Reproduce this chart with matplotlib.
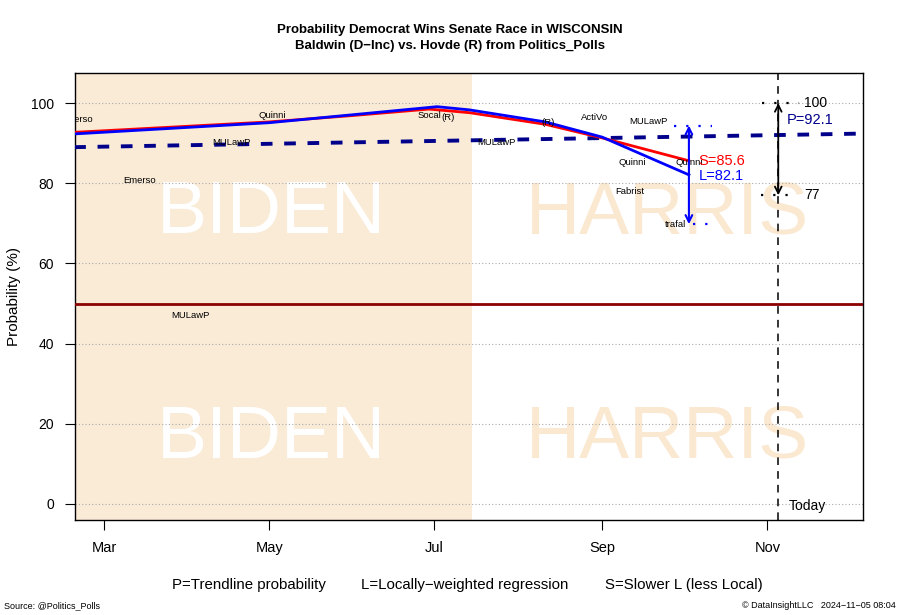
import matplotlib
matplotlib.use("Agg")
import matplotlib.pyplot as plt
import matplotlib.dates as mdates
import numpy as np
from datetime import datetime, timedelta

plt.rcParams['font.family'] = ['Liberation Sans', 'DejaVu Sans']

# ---------------- data ----------------
loess_dates = ['2024-02-19', '2024-05-01', '2024-06-01', '2024-07-02', '2024-07-14',
               '2024-08-11', '2024-09-01', '2024-10-03']
loess_vals = [92.3, 95.1, 97.1, 99.1, 98.3, 95.3, 91.5, 82.1]

slow_dates = ['2024-02-19', '2024-05-01', '2024-06-01', '2024-06-29', '2024-07-14',
              '2024-08-11', '2024-09-01', '2024-10-03']
slow_vals = [92.7, 95.3, 96.9, 98.5, 97.6, 94.7, 91.3, 85.6]

trend_dates = ['2024-02-19', '2024-12-07']
trend_vals = [89.0, 92.4]

poll_names = ['Emerso', 'Emerso', 'MULawP', 'MULawP', 'Quinni', 'Socal', '(R)', 'MULawP',
              '(R)', 'ActiVo', 'Fabrist', 'Quinni', 'MULawP', 'trafal', 'Quinni']
poll_dates = ['2024-02-20', '2024-03-14', '2024-04-02', '2024-04-17', '2024-05-02',
              '2024-06-29', '2024-07-06', '2024-07-24', '2024-08-12', '2024-08-29',
              '2024-09-11', '2024-09-12', '2024-09-18', '2024-09-28', '2024-10-03']
poll_vals = [96.0, 80.8, 47.1, 90.1, 97.0, 97.0, 96.4, 90.2, 95.2, 96.3,
             77.9, 85.2, 95.5, 69.6, 85.2]

last_poll_date = '2024-10-03'
range_top, range_bottom = 94.4, 69.8
today = '2024-11-05'
p_today, l_today, s_today = 92.1, 82.1, 85.6
p_hi, p_lo = 100, 77
biden_end = '2024-07-15'
xlim_dates = ['2024-02-19 07:00', '2024-12-06 07:00']
yticks = [0, 20, 40, 60, 80, 100]
xtick_dates = ['2024-03-01', '2024-05-01', '2024-07-01', '2024-09-01', '2024-11-01']
xtick_labels = ['Mar', 'May', 'Jul', 'Sep', 'Nov']


def d(s):
    return mdates.date2num(datetime.fromisoformat(s))


# ---------------- figure ----------------
fig = plt.figure(figsize=(9, 6.15), dpi=100)
ax = fig.add_axes([75/900, 1-520/615, (863-75)/900, (520-73)/615])
ax.set_xlim(d(xlim_dates[0]), d(xlim_dates[1]))
ax.set_ylim(-4.0, 107.5)

shade = '#FAEBD7'
ax.axvspan(d(xlim_dates[0]), d(biden_end), color=shade, zorder=0, lw=0)

# big background words
for yb in (67.5, 11.5):
    ax.text(d('2024-05-02'), yb, 'BIDEN', color='white', fontsize=54,
            ha='center', va='baseline', zorder=1)
    ax.text(d('2024-09-25'), yb, 'HARRIS', color='#FBE8D0', fontsize=54,
            ha='center', va='baseline', zorder=1)

# grid
for yv in yticks:
    ax.axhline(yv, color='#AAAAAA', lw=0.8, ls=(0, (1, 2)), zorder=1.5)

# 50% line
ax.axhline(50, color='#8B0000', lw=2, zorder=3)

# today line
ax.axvline(d(today), color='black', lw=1.1, ls=(0, (5, 4)), zorder=4)
ax.text(d(today) + 4, -0.5, 'Today', fontsize=10, ha='left', va='center', zorder=5)

# trendline P
ax.plot([d(s) for s in trend_dates], trend_vals, color='#00008B', lw=2.8,
        ls=(0, (3, 3)), zorder=4)

# loess curves
ax.plot([d(s) for s in slow_dates], slow_vals, color='#FF0000', lw=2, zorder=5)
ax.plot([d(s) for s in loess_dates], loess_vals, color='#0000FF', lw=2, zorder=6)

# poll labels
for n, ds, v in zip(poll_names, poll_dates, poll_vals):
    ax.text(d(ds), v, n, fontsize=6.8, ha='center', va='center', zorder=7, clip_on=True)

# range arrow at last poll
xl = d(last_poll_date)
ax.annotate('', xy=(xl, range_top), xytext=(xl, range_bottom),
            arrowprops=dict(arrowstyle='<->', color='#0000FF', lw=1.5,
                            shrinkA=0, shrinkB=0, mutation_scale=12), zorder=8)
ax.plot([xl - 5.5, xl + 8.5], [range_top, range_top], color='#0000FF', lw=1.6,
        ls=(0, (1, 4.5)), zorder=8)
ax.plot([xl + 1.5, xl + 7.0], [range_bottom, range_bottom], color='#0000FF', lw=1.6,
        ls=(0, (1, 4.5)), zorder=8)
ax.text(xl + 3.5, s_today, 'S=%.1f' % s_today, color='#FF0000', fontsize=10.5,
        ha='left', va='center', zorder=9)
ax.text(xl + 3.5, l_today - 0.2, 'L=%.1f' % l_today, color='#0000FF', fontsize=10.5,
        ha='left', va='center', zorder=9)

# range arrow at today
xt = d(today)
ax.annotate('', xy=(xt, p_hi), xytext=(xt, p_lo),
            arrowprops=dict(arrowstyle='<->', color='black', lw=1.3,
                            shrinkA=0, shrinkB=0, mutation_scale=12), zorder=8)
ax.plot([xt - 6, xt + 7.5], [p_hi, p_hi], color='black', lw=1.6,
        ls=(0, (1, 4.5)), zorder=8)
ax.plot([xt - 6.5, xt + 6.5], [p_lo, p_lo], color='black', lw=1.6,
        ls=(0, (1, 4.5)), zorder=8)
ax.text(xt + 9.5, p_hi, '%d' % p_hi, fontsize=10, ha='left', va='center', zorder=9)
ax.text(xt + 9.5, p_lo, '%d' % p_lo, fontsize=10, ha='left', va='center', zorder=9)
ax.text(xt + 3.3, p_today + 3.7, 'P=%.1f' % p_today, color='#00008B', fontsize=10.5,
        ha='left', va='center', zorder=9)

# axes styling
ax.set_yticks(yticks)
ax.set_yticklabels([str(v) for v in yticks], fontsize=10)
ax.set_xticks([d(s) for s in xtick_dates])
ax.set_xticklabels(xtick_labels, fontsize=10.5)
ax.tick_params(axis='x', length=7, pad=8, width=0.8)
ax.tick_params(axis='y', length=7, pad=8, width=0.8)
for sp in ax.spines.values():
    sp.set_linewidth(1.0)
ax.set_ylabel('Probability (%)', fontsize=11)
ax.yaxis.set_label_coords((21 - 75) / 788, 0.5)

# titles
fig.text(0.5, 1-30/615, 'Probability Democrat Wins Senate Race in WISCONSIN',
         ha='center', va='center', fontsize=9.5, fontweight='bold')
fig.text(0.5, 1-46/615, 'Baldwin (D\u2212Inc) vs. Hovde (R) from Politics_Polls',
         ha='center', va='center', fontsize=9.5, fontweight='bold')

# footer
fig.text(172/900, 1-585/615, 'P=Trendline probability', fontsize=10.8, ha='left', va='center')
fig.text(361/900, 1-585/615, 'L=Locally\u2212weighted regression', fontsize=10.8, ha='left', va='center')
fig.text(605/900, 1-585/615, 'S=Slower L (less Local)', fontsize=10.8, ha='left', va='center')
fig.text(4/900, 1-606/615, 'Source: @Politics_Polls', fontsize=6.5, ha='left', va='center')
fig.text(896/900, 1-606/615, '\u00a9 DataInsightLLC   2024\u221211\u221205 08:04', fontsize=6.5,
         ha='right', va='center')

fig.savefig('out.png', dpi=100)
